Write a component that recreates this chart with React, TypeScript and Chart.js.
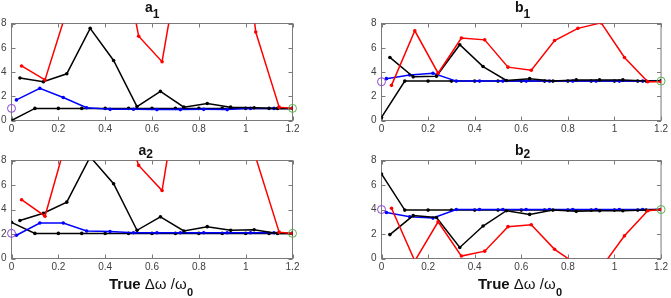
import React, { useEffect, useRef } from 'react';
import { Chart, registerables } from 'chart.js';

Chart.register(...registerables);

// ---------- data ----------
const xBlackA = [0, 0.1, 0.2, 0.3, 0.4, 0.5, 0.6, 0.7, 0.8, 0.9, 1.0, 1.1, 1.2];
const xBlackB = [0.036, 0.136, 0.236, 0.336, 0.436, 0.536, 0.636, 0.736, 0.836, 0.936, 1.036, 1.136, 1.2];
const xRed = [0.043, 0.143, 0.243, 0.343, 0.443, 0.543, 0.643, 0.743, 0.843, 0.943, 1.043, 1.143, 1.2];
const xBlue = [0.021, 0.121, 0.221, 0.321, 0.421, 0.521, 0.621, 0.721, 0.821, 0.921, 1.021, 1.121, 1.2];

const xTicks = [0, 0.2, 0.4, 0.6, 0.8, 1.0, 1.2];
const xTickLabels = ['0', '0.2', '0.4', '0.6', '0.8', '1', '1.2'];
const yTicks = [0, 2, 4, 6, 8];
const yTickLabels = ['0', '2', '4', '6', '8'];

// panel a1
const a1BlackA = [0, 1, 1, 1, 1, 1, 1, 1, 1, 1, 1, 1, 1];
const a1BlackB = [3.5, 3.2, 3.85, 7.6, 4.95, 1.15, 2.4, 1.1, 1.4, 1.1, 1.05, 1.0, 1.0];
const a1Red = [4.5, 3.35, 9.5, 14, 17, 6.95, 4.85, 16, 22, 24, 7.3, 1.1, 1.0];
const a1Blue = [1.7, 2.65, 1.9, 1.05, 0.92, 0.93, 0.9, 0.9, 0.92, 0.9, 1.0, 1.0, 1.0];
const a1Start = 1.0;
const a1End = 1.0;

// panel b1
const b1BlackA = [0.25, 3.25, 3.25, 3.25, 3.25, 3.25, 3.25, 3.25, 3.25, 3.25, 3.25, 3.25, 3.25];
const b1BlackB = [5.2, 3.6, 3.65, 6.25, 4.45, 3.3, 3.45, 3.25, 3.35, 3.35, 3.35, 3.25, 3.25];
const b1Red = [2.9, 7.4, 3.9, 6.8, 6.65, 4.4, 4.15, 6.6, 7.6, 8.05, 5.2, 3.2, 3.2];
const b1Blue = [3.45, 3.75, 3.9, 3.25, 3.25, 3.25, 3.25, 3.25, 3.25, 3.25, 3.25, 3.25, 3.25];
const b1Start = 3.2;
const b1End = 3.25;

// panel a2
const a2BlackA = [2.95, 2.05, 2.05, 2.05, 2.05, 2.05, 2.05, 2.05, 2.05, 2.05, 2.05, 2.05, 2.05];
const a2BlackB = [3.1, 3.7, 4.6, 8.3, 6.1, 2.3, 3.4, 2.25, 2.6, 2.3, 2.35, 2.05, 2.05];
const a2Red = [4.8, 3.45, 10.2, 14, 13.3, 7.6, 5.55, 17.2, 20, 20, 8.25, 2.15, 2.05];
const a2Blue = [1.9, 2.9, 2.9, 2.25, 2.2, 2.1, 2.1, 2.1, 2.1, 2.1, 2.1, 2.1, 2.05];
const a2Start = 2.05;
const a2End = 2.05;

// panel b2
const b2BlackA = [6.9, 3.95, 3.95, 3.95, 3.95, 3.95, 3.95, 3.95, 3.95, 3.95, 3.95, 3.95, 4.0];
const b2BlackB = [1.95, 3.5, 3.35, 0.9, 2.65, 3.9, 3.6, 3.95, 3.85, 3.9, 3.9, 3.95, 4.0];
const b2Red = [4.1, -0.2, 3.0, 0.2, 0.6, 2.6, 2.75, 0.75, -0.55, -0.75, 1.85, 3.9, 4.0];
const b2Blue = [3.75, 3.4, 3.3, 4.0, 4.0, 4.0, 4.0, 4.0, 4.0, 4.0, 4.0, 4.0, 4.0];
const b2Start = 4.0;
const b2End = 4.0;

// ---------- layout (page coords) ----------
type Panel = {
  key: string;
  letter: string;
  sub: string;
  blackA: number[];
  blackB: number[];
  red: number[];
  blue: number[];
  start: number;
  end: number;
  canvasLeft: number;
  canvasTop: number;
  canvasW: number;
  canvasH: number;
  area: { left: number; right: number; top: number; bottom: number };
  titleX: number;
  titleY: number;
  subY: number;
  xlabel: boolean;
  xlabelX: number;
};

const ROW1 = { top: 23.5, bottom: 120.5 };
const ROW2 = { top: 160.5, bottom: 258.5 };
const COLA = { left: 11.5, right: 292.5 };
const COLB = { left: 381.5, right: 662.5 };

const panels: Panel[] = [
  {
    key: 'a1', letter: 'a', sub: '1',
    blackA: a1BlackA, blackB: a1BlackB, red: a1Red, blue: a1Blue, start: a1Start, end: a1End,
    canvasLeft: -20, canvasTop: 0, canvasW: 330, canvasH: 140,
    area: { ...COLA, ...ROW1 }, titleX: 145, titleY: 12, subY: 18, xlabel: false, xlabelX: 0,
  },
  {
    key: 'b1', letter: 'b', sub: '1',
    blackA: b1BlackA, blackB: b1BlackB, red: b1Red, blue: b1Blue, start: b1Start, end: b1End,
    canvasLeft: 330, canvasTop: 0, canvasW: 341, canvasH: 140,
    area: { ...COLB, ...ROW1 }, titleX: 515, titleY: 12, subY: 18, xlabel: false, xlabelX: 0,
  },
  {
    key: 'a2', letter: 'a', sub: '2',
    blackA: a2BlackA, blackB: a2BlackB, red: a2Red, blue: a2Blue, start: a2Start, end: a2End,
    canvasLeft: -20, canvasTop: 140, canvasW: 330, canvasH: 158,
    area: { ...COLA, ...ROW2 }, titleX: 138.5, titleY: 155, subY: 157.5, xlabel: true, xlabelX: 109,
  },
  {
    key: 'b2', letter: 'b', sub: '2',
    blackA: b2BlackA, blackB: b2BlackB, red: b2Red, blue: b2Blue, start: b2Start, end: b2End,
    canvasLeft: 330, canvasTop: 140, canvasW: 341, canvasH: 158,
    area: { ...COLB, ...ROW2 }, titleX: 515, titleY: 155, subY: 157.5, xlabel: true, xlabelX: 478,
  },
];

const AXIS_COLOR = '#7a7a7a';
const TICK_COLOR = '#404040';

const decoPlugin = {
  id: 'deco',
  beforeDatasetsDraw(chart: any) {
    const opts = chart.options.plugins.deco;
    if (!opts) return;
    const ctx = chart.ctx;
    const { left, right, top, bottom } = chart.chartArea;
    const xs = chart.scales.x;
    const ys = chart.scales.y;
    ctx.save();
    ctx.strokeStyle = AXIS_COLOR;
    ctx.lineWidth = 1;
    ctx.strokeRect(left, top, right - left, bottom - top);
    const tl = 4;
    ctx.beginPath();
    for (const v of xTicks) {
      const px = Math.round(xs.getPixelForValue(v)) + 0.5;
      ctx.moveTo(px, bottom);
      ctx.lineTo(px, bottom - tl);
      ctx.moveTo(px, top);
      ctx.lineTo(px, top + tl);
    }
    for (const v of yTicks) {
      const py = Math.round(ys.getPixelForValue(v)) + 0.5;
      ctx.moveTo(left, py);
      ctx.lineTo(left + tl, py);
      ctx.moveTo(right, py);
      ctx.lineTo(right - tl, py);
    }
    ctx.stroke();
    ctx.restore();
  },
  afterDraw(chart: any) {
    const opts = chart.options.plugins.deco;
    if (!opts) return;
    const ctx = chart.ctx;
    const ox = opts.offX;
    const oy = opts.offY;
    ctx.save();
    ctx.fillStyle = '#111';
    ctx.textBaseline = 'alphabetic';
    ctx.textAlign = 'left';
    // title
    ctx.font = 'bold 14px "Liberation Sans", Arial, sans-serif';
    ctx.fillText(opts.letter, opts.titleX - ox, opts.titleY - oy);
    const lw = ctx.measureText(opts.letter).width;
    ctx.font = 'bold 12px "Liberation Sans", Arial, sans-serif';
    ctx.fillText(opts.sub, opts.titleX - ox + lw, opts.subY - oy);
    // x label
    if (opts.xlabel) {
      let x = opts.xlabelX - ox;
      const y = 288.5 - oy;
      ctx.font = 'bold 15px "Liberation Sans", Arial, sans-serif';
      ctx.fillText('True', x, y);
      x += ctx.measureText('True ').width;
      ctx.font = '15px "Liberation Sans", Arial, sans-serif';
      ctx.fillText('Δω /ω', x, y);
      x += ctx.measureText('Δω /ω').width;
      ctx.font = 'bold 11px "Liberation Sans", Arial, sans-serif';
      ctx.fillText('0', x + 0.5, y + 7);
    }
    ctx.restore();
  },
};

function lineDs(label: string, xs: number[], ys: number[], color: string) {
  return {
    type: 'line' as const,
    label,
    data: xs.map((x, i) => ({ x, y: ys[i] })),
    borderColor: color,
    backgroundColor: color,
    borderWidth: 1.5,
    pointRadius: 1.8,
    pointBorderWidth: 0,
    pointBackgroundColor: color,
    tension: 0,
    fill: false,
  };
}

function circleDs(label: string, x: number, y: number, color: string) {
  return {
    type: 'scatter' as const,
    label,
    data: [{ x, y }],
    borderColor: color,
    backgroundColor: 'rgba(0,0,0,0)',
    pointRadius: 4,
    pointBorderWidth: 1,
    clip: false as any,
  };
}

function PanelChart({ p }: { p: Panel }) {
  const ref = useRef<HTMLCanvasElement | null>(null);
  useEffect(() => {
    if (!ref.current) return;
    const aLeft = p.area.left - p.canvasLeft;
    const aRight = p.area.right - p.canvasLeft;
    const aTop = p.area.top - p.canvasTop;
    const aBottom = p.area.bottom - p.canvasTop;
    const chart = new Chart(ref.current, {
      type: 'line',
      data: {
        datasets: [
          circleDs('start', 0, p.start, '#8b3fd6'),
          circleDs('end', 1.2, p.end, '#5cb04a'),
          lineDs('red', xRed, p.red, '#ff0000'),
          lineDs('blackB', xBlackB, p.blackB, '#000000'),
          lineDs('blue', xBlue, p.blue, '#0000ff'),
          lineDs('blackA', xBlackA, p.blackA, '#000000'),
        ] as any,
      },
      options: {
        animation: false,
        responsive: false,
        maintainAspectRatio: false,
        layout: {
          padding: { left: 0, top: aTop, right: p.canvasW - aRight, bottom: 0 },
        },
        plugins: {
          legend: { display: false },
          tooltip: { enabled: false },
          title: { display: false },
          deco: {
            letter: p.letter,
            sub: p.sub,
            titleX: p.titleX,
            titleY: p.titleY,
            subY: p.subY,
            xlabel: p.xlabel,
            xlabelX: p.xlabelX,
            offX: p.canvasLeft,
            offY: p.canvasTop,
          },
        } as any,
        scales: {
          x: {
            type: 'linear',
            min: 0,
            max: 1.2,
            border: { display: false },
            grid: { display: false, drawTicks: false },
            afterBuildTicks: (s: any) => {
              s.ticks = xTicks.map((v) => ({ value: v }));
            },
            afterFit: (s: any) => {
              s.height = p.canvasH - aBottom;
            },
            ticks: {
              autoSkip: false,
              maxRotation: 0,
              padding: 3,
              color: TICK_COLOR,
              font: { family: '"Liberation Sans", Arial, sans-serif', size: 10 },
              callback: (_v: any, i: number) => xTickLabels[i],
            },
          },
          y: {
            type: 'linear',
            min: 0,
            max: 8,
            border: { display: false },
            grid: { display: false, drawTicks: false },
            afterBuildTicks: (s: any) => {
              s.ticks = yTicks.map((v) => ({ value: v }));
            },
            afterFit: (s: any) => {
              s.width = aLeft;
            },
            ticks: {
              autoSkip: false,
              padding: 5,
              color: TICK_COLOR,
              font: { family: '"Liberation Sans", Arial, sans-serif', size: 10 },
              callback: (_v: any, i: number) => yTickLabels[i],
            },
          },
        },
      } as any,
      plugins: [decoPlugin],
    });
    return () => chart.destroy();
  }, [p]);
  return (
    <canvas
      ref={ref}
      width={p.canvasW}
      height={p.canvasH}
      style={{
        position: 'absolute',
        left: p.canvasLeft,
        top: p.canvasTop,
        width: p.canvasW,
        height: p.canvasH,
      }}
    />
  );
}

export default function App() {
  return (
    <div
      style={{
        position: 'absolute',
        left: 0,
        top: 0,
        width: 671,
        height: 298,
        overflow: 'hidden',
        background: '#fff',
      }}
    >
      {panels.map((p) => (
        <PanelChart key={p.key} p={p} />
      ))}
    </div>
  );
}
